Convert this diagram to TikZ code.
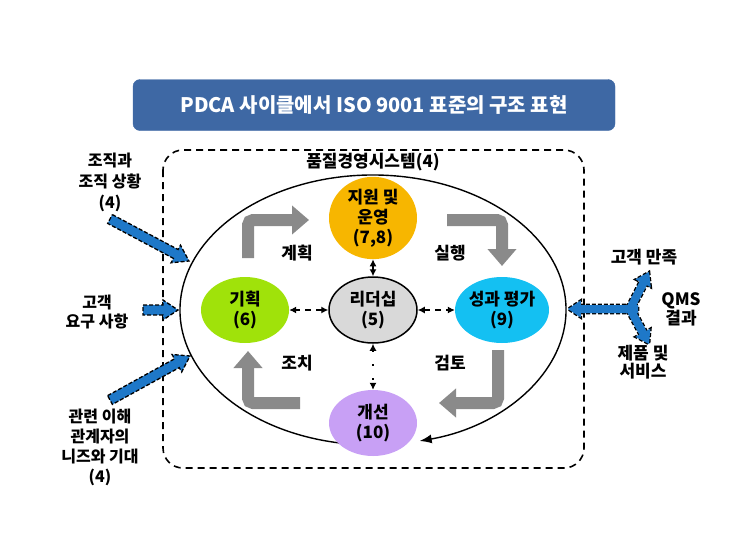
\documentclass[tikz,border=0pt]{standalone}
\usepackage{fontspec}
\setmainfont{Noto Sans CJK KR}
\usepackage{tikz}
\usetikzlibrary{arrows.meta}
\usetikzlibrary{shapes.geometric}
\usetikzlibrary{calc}
\definecolor{titleblue}{RGB}{62,104,164}
\definecolor{supportorange}{RGB}{247,182,0}
\definecolor{plangreen}{RGB}{160,226,10}
\definecolor{leadgray}{RGB}{217,217,217}
\definecolor{evalcyan}{RGB}{20,192,242}
\definecolor{improvepurple}{RGB}{200,160,245}
\definecolor{arrowgray}{RGB}{138,138,138}
\definecolor{inblue}{RGB}{30,120,200}
\tikzstyle{phase}=[ellipse, minimum width=88pt, minimum height=66pt, inner sep=0pt, align=center, font=\fontsize{17}{20}\selectfont\bfseries]
\tikzstyle{txt}=[align=center, inner sep=0pt, font=\fontsize{17}{20}\selectfont\bfseries]
\tikzset{leadarr/.style={{Latex[length=7pt,width=7pt]}-{Latex[length=7pt,width=7pt]}, line width=1.2pt}}
\tikzset{pdca/.style={line width=12pt, draw=arrowgray, rounded corners=5pt,
      -{Triangle[width=28pt,length=17pt]}}}
\tikzset{bluearr/.style={fill=inblue, draw=black, line width=1.3pt, dash pattern=on 4pt off 2pt}}
% block arrow: style, tail, tip, half shaft, half head
\newcommand{\bluearrow}[5]{
  \path[#1] ($(#2)!#4pt!90:(#3)$) -- ($($(#3)!1.5*#5pt!(#2)$)!#4pt!90:(#3)$)
    -- ($($(#3)!1.5*#5pt!(#2)$)!#5pt!90:(#3)$) -- (#3)
    -- ($($(#3)!1.5*#5pt!(#2)$)!#5pt!-90:(#3)$)
    -- ($($(#3)!1.5*#5pt!(#2)$)!#4pt!-90:(#3)$) -- ($(#2)!#4pt!-90:(#3)$) -- cycle;}

\begin{document}
\begin{tikzpicture}[x=1pt,y=-1pt]
\useasboundingbox (0,0) rectangle (743,557);
\node[draw=titleblue, fill=titleblue, rounded corners=7pt, minimum width=482pt, minimum height=51pt,
      text=white, font=\fontsize{20}{24}\selectfont\bfseries] (title) at (374,105)
      {PDCA 사이클에서 ISO 9001 표준의 구조 표현};
\draw[line width=1.6pt, dash pattern=on 7pt off 5pt, rounded corners=20pt] (163,150) rectangle (584,468);
\node[txt] (qms) at (373,162) {품질경영시스템(4)};

% outer cycle
\coordinate (ellc) at (373,310);
\draw[line width=1.4pt, -{Latex[length=12pt,width=9pt]}] (ellc) ++(100:193 and 135)
      arc[start angle=100, end angle=436, x radius=193, y radius=135];

\node[phase, fill=supportorange] (support) at (373,218) {지원 및\\운영\\(7,8)};
\node[phase, fill=plangreen] (plan) at (245,310) {기획\\(6)};
\node[phase, fill=leadgray, draw=black, line width=1.5pt] (lead) at (373,310) {리더십\\(5)};
\node[phase, fill=evalcyan] (evalu) at (502,310) {성과 평가\\(9)};
\node[phase, fill=improvepurple] (improve) at (373,423) {개선\\(10)};

\draw[leadarr] (lead) -- (support);
\draw[leadarr, dash pattern=on 6pt off 5pt] (lead) -- (plan);
\draw[leadarr, dash pattern=on 6pt off 5pt] (lead) -- (evalu);
\draw[leadarr, dash pattern=on 2pt off 12pt] (lead) -- (improve);

\draw[pdca] (248,258) -- (248,220) -- (309,220);
\draw[pdca] (447,220) -- (502,220) -- (502,266);
\draw[pdca] (498,350) -- (498,403) -- (439,403);
\draw[pdca] (300,403) -- (248,403) -- (248,351);
\node[txt] (plantxt) at (297,253) {계획};
\node[txt] (dotxt) at (450,253) {실행};
\node[txt] (acttxt) at (297,363) {조치};
\node[txt] (checktxt) at (450,363) {검토};

% inputs
\node[txt, font=\fontsize{16}{21}\selectfont\bfseries] (context) at (110,182) {조직과\\조직 상황\\(4)};
\node[txt, font=\fontsize{16}{19}\selectfont\bfseries] (needs) at (97,312) {고객\\요구 사항};
\node[txt, font=\fontsize{16}{20}\selectfont\bfseries] (parties) at (100,447) {관련 이해\\관계자의\\니즈와 기대\\(4)};
\coordinate (in1a) at (110,219);
\coordinate (in1b) at (189,261);
\coordinate (in2a) at (143,310);
\coordinate (in2b) at (178,310);
\coordinate (in3a) at (110,400);
\coordinate (in3b) at (190,356);
\bluearrow{bluearr}{in1a}{in1b}{5}{10}
\bluearrow{bluearr}{in2a}{in2b}{5}{10}
\bluearrow{bluearr}{in3a}{in3b}{5}{10}

% outputs
\coordinate (outj) at (630,309);
\coordinate (outh) at (638,309);
\coordinate (out1) at (568,309);
\coordinate (out2) at (649,272);
\coordinate (out3) at (649,344);
\bluearrow{bluearr, line width=2.6pt}{outj}{out2}{4}{8.5}
\bluearrow{bluearr, line width=2.6pt}{outj}{out3}{4}{8.5}
\bluearrow{bluearr, line width=2.6pt}{outh}{out1}{4}{8.5}
\bluearrow{fill=inblue}{outj}{out2}{4}{8.5}
\bluearrow{fill=inblue}{outj}{out3}{4}{8.5}
\bluearrow{fill=inblue}{outh}{out1}{4}{8.5}
\node[txt] (satisfy) at (644,257) {고객 만족};
\node[txt, font=\fontsize{17}{19}\selectfont\bfseries] (result) at (681,309) {QMS\\결과};
\node[txt, font=\fontsize{17}{18}\selectfont\bfseries] (product) at (643,362) {제품 및\\서비스};
\end{tikzpicture}
\end{document}
